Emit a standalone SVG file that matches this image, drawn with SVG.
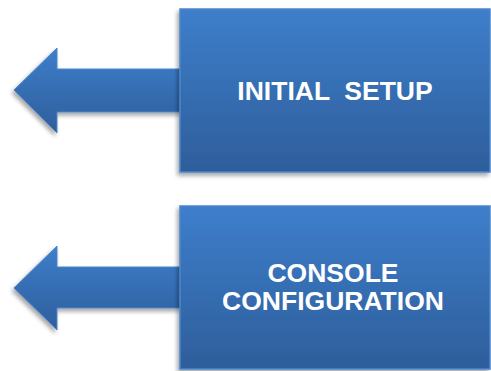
<svg xmlns="http://www.w3.org/2000/svg" width="491" height="371" viewBox="0 0 491 371">
<defs>
<linearGradient id="g" x1="0" y1="0" x2="0" y2="1">
<stop offset="0" stop-color="#3d7ecb"/>
<stop offset="1" stop-color="#2e5e9b"/>
</linearGradient>
<filter id="sh" x="-10%" y="-10%" width="125%" height="130%">
<feDropShadow dx="-2" dy="3" stdDeviation="2" flood-color="#000" flood-opacity="0.35"/>
</filter>
</defs>
<style>
.box{fill:url(#g);stroke:#4a86cc;stroke-width:1.5;filter:url(#sh)}
.arr{fill:url(#g);stroke:#4a86cc;stroke-width:1;filter:url(#sh)}
.t{font-family:"Liberation Sans",Arial,sans-serif;font-weight:bold;font-size:26.5px;fill:#fff;text-anchor:middle}
</style>
<g id="connectors">
<path class="arr" d="M14,90 L57,48 L57,69 L182,69 L182,112 L57,112 L57,133 Z"/>
<path class="arr" d="M14,288 L57,246 L57,267 L182,267 L182,308 L57,308 L57,330 Z"/>
</g>
<g id="initial-setup">
<rect class="box" x="180" y="9" width="310" height="163"/>
<text class="t" x="335" y="100" xml:space="preserve">INITIAL  SETUP</text>
</g>
<g id="console-configuration">
<rect class="box" x="180" y="206" width="310" height="163"/>
<text class="t" x="333" y="282">CONSOLE</text>
<text class="t" x="333" y="310">CONFIGURATION</text>
</g>
</svg>
